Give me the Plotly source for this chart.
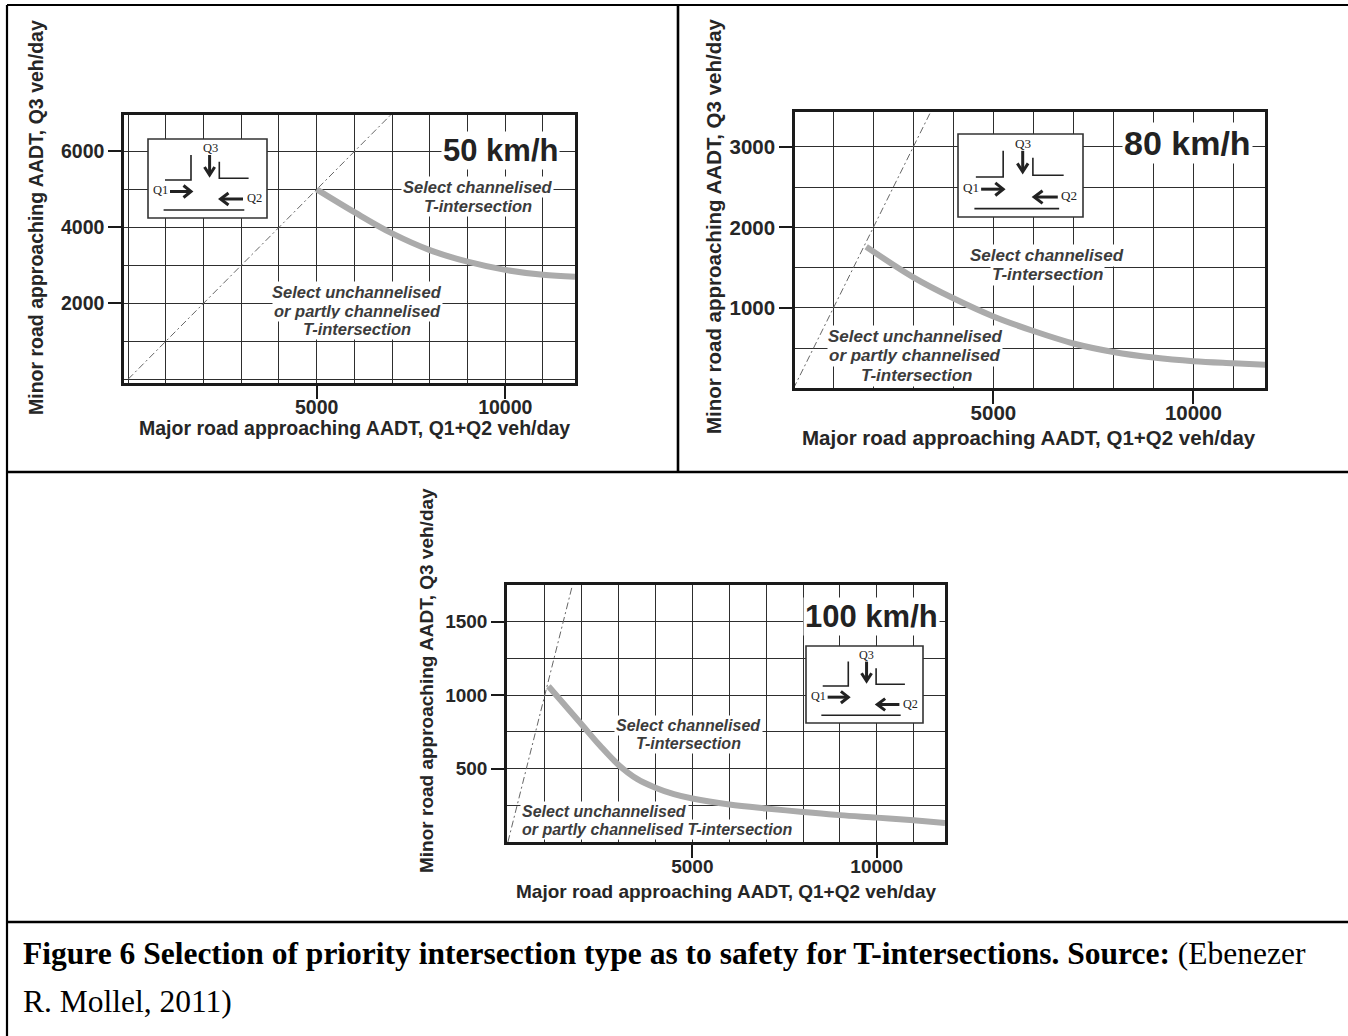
import plotly.graph_objects as go

W, H = 1348, 1036

# ---------------- data ----------------
speed_labels = ["50 km/h", "80 km/h", "100 km/h"]

curve50_x = [5000, 6000, 7000, 8000, 9000, 10000, 11000, 11850]
curve50_y = [5000, 4400, 3840, 3400, 3095, 2880, 2750, 2700]

curve80_x = [1820, 3000, 4000, 5000, 6000, 7000, 8000, 9000, 10000, 11000, 11800]
curve80_y = [1760, 1380, 1120, 895, 715, 560, 455, 385, 340, 315, 297]

curve100_x = [1100, 2000, 2500, 3000, 3500, 4000, 4500, 5000, 6000, 7000, 8000, 9000, 10000, 11000, 11850]
curve100_y = [1060, 800, 655, 525, 430, 370, 326, 296, 255, 228, 205, 183, 166, 148, 130]

diag_x = [0, 7000]
diag_y = [0, 7000]

x_tickvals = [5000, 10000]
x_ticktext = ["5000", "10000"]
y50_tickvals = [2000, 4000, 6000]
y80_tickvals = [1000, 2000, 3000]
y100_tickvals = [500, 1000, 1500]

x_title = "Major road approaching AADT, Q1+Q2 veh/day"
y_title = "Minor road approaching AADT, Q3 veh/day"
region_hi = ["Select channelised", "T-intersection"]
region_lo = ["Select unchannelised", "or partly channelised", "T-intersection"]
caption_bold = "Figure 6 Selection of priority intersection type as to safety for T-intersections. Source:"
caption_rest = " (Ebenezer"
caption_line2 = "R. Mollel, 2011)"


def fx(x):
    return x / W


def fy(y):
    return 1 - y / H


SANS = "Liberation Sans, Arial, sans-serif"
SERIF = "Liberation Serif, Times New Roman, serif"
INK = "#262626"
GRID = "#2e2e2e"
CURVE = "#ababab"

fig = go.Figure()

panels = [
    dict(sfx="", cx=curve50_x, cy=curve50_y, frame=(124, 115, 575, 383),
         xr=[-110, 11850], yr=[-100, 6960], ytv=y50_tickvals, ydt=1000, fs=19.5),
    dict(sfx="2", cx=curve80_x, cy=curve80_y, frame=(795, 112, 1265, 388),
         xr=[40, 11790], yr=[8, 3430], ytv=y80_tickvals, ydt=500, fs=20.5),
    dict(sfx="3", cx=curve100_x, cy=curve100_y, frame=(507, 585, 945, 842),
         xr=[-25, 11850], yr=[0, 1750], ytv=y100_tickvals, ydt=250, fs=19),
]

layout_axes = {}
for p in panels:
    s = p["sfx"]
    xa = "x" + s
    ya = "y" + s
    fig.add_trace(go.Scatter(x=diag_x, y=diag_y, mode="lines", xaxis=xa, yaxis=ya,
                             line=dict(color="#666666", width=1, dash="7px,3px,2px,3px"),
                             showlegend=False, hoverinfo="skip"))
    fig.add_trace(go.Scatter(x=p["cx"], y=p["cy"], mode="lines", xaxis=xa, yaxis=ya,
                             line=dict(color=CURVE, width=6, shape="spline", smoothing=1.0),
                             showlegend=False, hoverinfo="skip"))
    l, t, r, b = p["frame"]
    common = dict(showline=True, mirror=True, linecolor="#1a1a1a", linewidth=2.5,
                  ticks="outside", ticklen=13, tickwidth=1.6, tickcolor="#1a1a1a",
                  showgrid=True, gridcolor=GRID, gridwidth=1.3, zeroline=False,
                  tickfont=dict(family=SANS, size=p["fs"], color=INK, weight="bold"),
                  fixedrange=True)
    layout_axes["xaxis" + s] = dict(
        domain=[fx(l), fx(r)], range=p["xr"], anchor=ya, tickvals=x_tickvals,
        ticktext=x_ticktext, ticklabelstandoff=-8,
        minor=dict(dtick=1000, tick0=0, showgrid=True, gridcolor=GRID, gridwidth=1.3, ticks=""),
        **common)
    layout_axes["yaxis" + s] = dict(
        domain=[fy(b), fy(t)], range=p["yr"], anchor=xa, tickvals=p["ytv"],
        minor=dict(dtick=p["ydt"], tick0=0, showgrid=True, gridcolor=GRID, gridwidth=1.3, ticks=""),
        **common)

annotations = []
shapes = []


def text(x, y, s, size, color=INK, family=SANS, weight="bold", italic=False,
         xanchor="center", bg=None, angle=0):
    f = dict(family=family, size=size, color=color, weight=weight)
    if italic:
        f["style"] = "italic"
    a = dict(x=fx(x), y=fy(y), xref="paper", yref="paper", text=s, showarrow=False,
             xanchor=xanchor, yanchor="middle", font=f, textangle=angle, borderpad=1)
    if bg:
        a["bgcolor"] = bg
    annotations.append(a)


# axis titles
text(354, 428, x_title, 19.5)
text(1029, 438, x_title, 20.5)
text(726, 891, x_title, 19)
text(36, 218, y_title, 19.5, angle=-90)
text(713, 226, y_title, 20.5, angle=-90)
text(426, 680, y_title, 19, angle=-90)

# speed labels
text(500, 150, speed_labels[0], 31, color="#222222", bg="white")
text(1187, 143, speed_labels[1], 34, color="#222222", bg="white")
text(871, 616, speed_labels[2], 31, color="#222222", bg="white")

# region labels
RC = "#3c3c3c"
text(478, 187, region_hi[0], 16.5, color=RC, italic=True, bg="white")
text(478, 206, region_hi[1], 16.5, color=RC, italic=True, bg="white")
text(357, 292, region_lo[0], 16.5, color=RC, italic=True, bg="white")
text(357, 311, region_lo[1], 16.5, color=RC, italic=True, bg="white")
text(357, 329, region_lo[2], 16.5, color=RC, italic=True, bg="white")

text(1047, 256, region_hi[0], 17, color=RC, italic=True, bg="white")
text(1047, 275, region_hi[1], 17, color=RC, italic=True, bg="white")
text(915, 336, region_lo[0], 17, color=RC, italic=True, bg="white")
text(915, 355, region_lo[1], 17, color=RC, italic=True, bg="white")
text(916, 375, region_lo[2], 17, color=RC, italic=True, bg="white")

text(688, 725, region_hi[0], 16, color=RC, italic=True, bg="white")
text(688, 743, region_hi[1], 16, color=RC, italic=True, bg="white")
text(520, 811, region_lo[0], 16, color=RC, italic=True, bg="white", xanchor="left")
text(520, 829, region_lo[1] + " " + region_lo[2], 16, color=RC, italic=True, bg="white",
     xanchor="left")


# T-intersection inset icons
def path(pts):
    return "M " + " L ".join(f"{fx(x):.5f} {fy(y):.5f}" for x, y in pts)


def icon(x0, y0, w, h):
    sx, sy = w / 119.0, h / 79.0

    def P(u, v):
        return (x0 + u * sx, y0 + v * sy)

    shapes.append(dict(type="rect", xref="paper", yref="paper", x0=fx(x0), x1=fx(x0 + w),
                       y0=fy(y0 + h), y1=fy(y0), fillcolor="white",
                       line=dict(color="#333333", width=1.6), layer="above"))
    thin = [
        [(43, 16), (43, 41), (17, 41)],
        [(71.3, 22.7), (71.3, 39.3), (100.6, 39.3)],
        [(15.6, 71), (96.3, 71)],
    ]
    for seg in thin:
        shapes.append(dict(type="path", xref="paper", yref="paper",
                           path=path([P(*q) for q in seg]),
                           line=dict(color="#222222", width=1.6), layer="above"))
    thick = [
        [(61.6, 16), (61.6, 35)],
        [(56.5, 28), (61.6, 36), (66.7, 28)],
        [(22, 52.5), (43, 52.5)],
        [(35.5, 46.5), (43, 52.5), (35.5, 58.5)],
        [(95, 60), (73, 60)],
        [(80.5, 54), (72.5, 60), (80.5, 66)],
    ]
    for seg in thick:
        shapes.append(dict(type="path", xref="paper", yref="paper",
                           path=path([P(*q) for q in seg]),
                           line=dict(color="#222222", width=3), layer="above"))
    fsz = 12.5 * min(sx, sy)
    for lab, (u, v) in [("Q3", (62, 9)), ("Q1", (12.5, 51)), ("Q2", (106, 59))]:
        X, Y = P(u, v)
        annotations.append(dict(x=fx(X), y=fy(Y), xref="paper", yref="paper", text=lab,
                                showarrow=False, xanchor="center", yanchor="middle",
                                font=dict(family=SERIF, size=fsz, color="#222222")))


icon(148, 139, 119, 79)
icon(958, 134, 125, 83)
icon(806, 646, 117, 77)

# table borders
LC = "black"
for x0, y0, x1, y1, wdt in [
    (7, 5, 1348, 5, 2.2),
    (7, 5, 7, 1036, 2.2),
    (678, 5, 678, 472, 2.6),
    (7, 472, 1348, 472, 2.6),
    (7, 922, 1348, 922, 2.6),
]:
    shapes.append(dict(type="line", xref="paper", yref="paper", x0=fx(x0), y0=fy(y0),
                       x1=fx(x1), y1=fy(y1), line=dict(color=LC, width=wdt), layer="above"))

# caption
annotations.append(dict(x=fx(21), y=fy(953), xref="paper", yref="paper", showarrow=False,
                        xanchor="left", yanchor="middle",
                        text="<b>" + caption_bold + "</b>" + caption_rest,
                        font=dict(family=SERIF, size=31.5, color="black")))
annotations.append(dict(x=fx(21), y=fy(1001), xref="paper", yref="paper", showarrow=False,
                        xanchor="left", yanchor="middle", text=caption_line2,
                        font=dict(family=SERIF, size=31.5, color="black")))

fig.update_layout(
    width=W, height=H, autosize=False,
    margin=dict(l=0, r=0, t=0, b=0, pad=0),
    paper_bgcolor="white", plot_bgcolor="white",
    showlegend=False,
    annotations=annotations, shapes=shapes,
    **layout_axes,
)

fig.write_html("out.html", config={"displayModeBar": False},
               post_script="document.body.style.margin='0';document.body.style.overflow='hidden';")
